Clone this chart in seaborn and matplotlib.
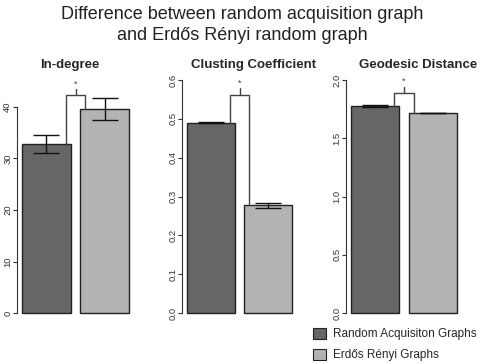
import matplotlib
matplotlib.use("Agg")
import matplotlib.pyplot as plt
from matplotlib.patches import Patch
import numpy as np
import pandas as pd
import seaborn as sns

# data ------------------------------------------------------------------------
groups = ["Random Acquisiton Graphs", "Erdős Rényi Graphs"]
colors = ["#666666", "#b3b3b3"]

titles = ["In-degree", "Clusting Coefficient", "Geodesic Distance"]
means_indeg = [32.8, 39.6]
err_indeg = [1.75, 2.2]
means_clust = [0.490, 0.277]
err_clust = [0.001, 0.007]
means_geo = [1.777, 1.717]
err_geo = [0.012, 0.003]
bracket_tops = [42.3, 0.562, 1.89]
yticks = [[0, 10, 20, 30, 40],
          [0.0, 0.1, 0.2, 0.3, 0.4, 0.5, 0.6],
          [0.0, 0.5, 1.0, 1.5, 2.0]]
ytick_labels = [["0", "10", "20", "30", "40"],
                ["0.0", "0.1", "0.2", "0.3", "0.4", "0.5", "0.6"],
                ["0.0", "0.5", "1.0", "1.5", "2.0"]]

sns.set_style("white")
plt.rcParams['font.family'] = ['Liberation Sans', 'DejaVu Sans']

W, H = 484, 364
fig = plt.figure(figsize=(W / 100, H / 100), dpi=100)

# panel layout in pixels: left, width, px per unit, title center
panels = [
    (17, 117, 5.15, 70),
    (182, 115, 388.3, 254),
    (346, 116, 116.5, 418),
]
top_px, zero_px, bot_px = 70, 313, 322
series = [(means_indeg, err_indeg), (means_clust, err_clust), (means_geo, err_geo)]

for i, ((left, width, ppu, tx), (m, e)) in enumerate(zip(panels, series)):
    ax = fig.add_axes([left / W, 1 - bot_px / H, width / W, (bot_px - top_px) / H])
    df = pd.DataFrame({"group": groups, "value": m})
    sns.barplot(data=df, x="group", y="value", hue="group", palette=colors,
                order=groups, hue_order=groups, width=0.833, errorbar=None,
                edgecolor="#222222", linewidth=1, legend=False, ax=ax)
    ax.errorbar([0, 1], m, yerr=e, fmt="none", ecolor="#111111",
                elinewidth=1, capsize=9.5, capthick=1)
    ax.set_xlim(-0.5, 1.5)
    ax.set_ylim(-(bot_px - zero_px) / ppu, (zero_px - top_px) / ppu)
    span = (bot_px - top_px) / ppu

    # significance bracket
    top = bracket_tops[i]
    ax.plot([0.333, 0.333, 0.667, 0.667], [m[0], top, top, m[1]],
            color="#444444", lw=1)
    ax.plot([0.5, 0.5], [top, top + 0.025 * span], color="#444444", lw=1)
    ax.text(0.5, top + 0.027 * span, "*", ha="center", va="bottom",
            fontsize=6.5, color="#444444")

    ax.set_yticks(yticks[i])
    ax.set_yticklabels(ytick_labels[i], rotation=90, va="center",
                       fontsize=6.8, color="#333333")
    ax.tick_params(axis="y", left=True, length=3, width=0.8, color="#333333", pad=0.5)
    ax.set_xticks([])
    ax.set_xlabel("")
    ax.set_ylabel("")
    for s in ["top", "right", "bottom"]:
        ax.spines[s].set_visible(False)
    ax.spines["left"].set_bounds(yticks[i][0], yticks[i][-1])
    ax.spines["left"].set_color("#333333")
    ax.spines["left"].set_linewidth(0.8)
    fig.text(tx / W, 1 - 65 / H, titles[i], ha="center", va="center",
             fontsize=9.5, fontweight="bold")

fig.text(0.5, 1 - 25 / H,
         "Difference between random acquisition graph\nand Erdős Rényi random graph",
         ha="center", va="center", fontsize=13, color="#222222", linespacing=1.25)

handles = [Patch(facecolor=c, edgecolor="#222222", linewidth=0.8) for c in colors]
fig.legend(handles, groups, loc="upper left", bbox_to_anchor=(308 / W, 1 - 323 / H),
           frameon=False, fontsize=8.5, handlelength=1.1, handleheight=1.1,
           handletextpad=0.6, labelspacing=0.7, borderaxespad=0)

fig.savefig("out.png", dpi=100)
